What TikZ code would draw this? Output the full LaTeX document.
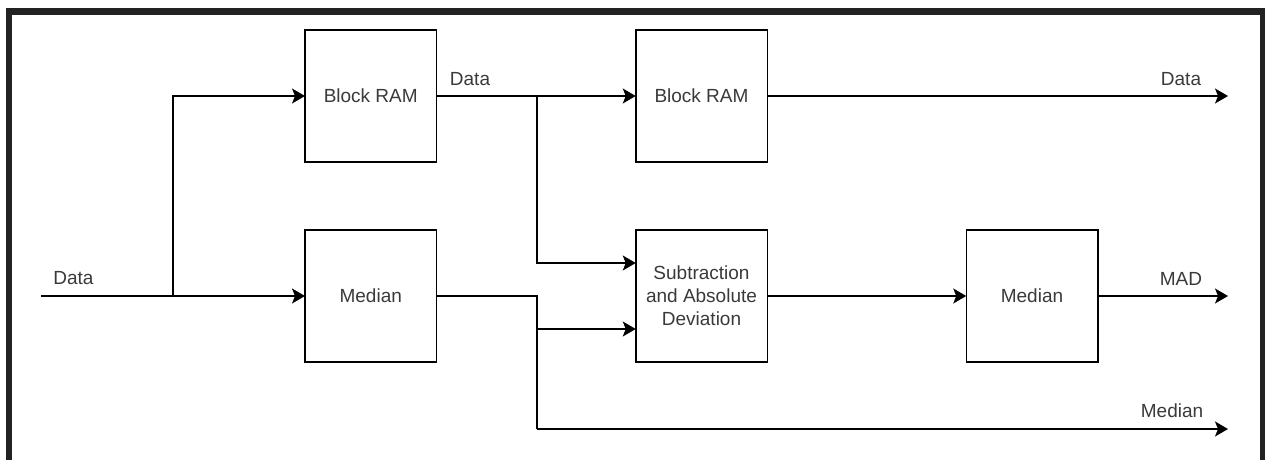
\documentclass[tikz,border=0pt]{standalone}
\usepackage{fontspec}
\setmainfont{Liberation Sans}
\usetikzlibrary{arrows.meta,calc}
\definecolor{framecol}{HTML}{222222}
\definecolor{txtcol}{HTML}{3A3A3A}
\tikzset{
  block/.style={draw=black, line width=1.5pt, minimum width=131.5pt, minimum height=132pt,
    inner sep=2pt, outer sep=0pt, align=center, text=txtcol,
    font=\fontsize{19}{23}\selectfont},
  wire/.style={draw=black, line width=1.5pt},
  flow/.style={wire, -{Stealth[length=13pt, width=15pt, inset=3pt]}},
  lbl/.style={text=txtcol, inner sep=0pt, font=\fontsize{19}{23}\selectfont}
}
\begin{document}
\begin{tikzpicture}[x=1pt,y=-1pt]
  \useasboundingbox (0,0) rectangle (1265,460);
  \fill[white] (0,0) rectangle (1265,460);
  % dark frame on top, left and right
  \fill[framecol] (6,8) rectangle (1265,15);
  \fill[framecol] (6,8) rectangle (12,460);
  \fill[framecol] (1260,8) rectangle (1265,460);

  % processing blocks
  \node[block] (bram1) at (370.75,96)  {Block RAM};
  \node[block] (bram2) at (701.5,96)   {Block RAM};
  \node[block] (med1)  at (370.75,296) {Median};
  \node[block] (sub)   at (701.5,296)  {Subtraction\\and Absolute\\Deviation};
  \node[block] (med2)  at (1032,296)   {Median};

  % free ends and junctions
  \coordinate (in)     at (41,296);
  \coordinate (j1)     at (173,296);
  \coordinate (j2)     at (537,96);
  \coordinate (j3)     at (537,296);
  \coordinate (j4)     at (537,329);
  \coordinate (j5)     at (537,429);
  \coordinate (outD)   at (1228,96);
  \coordinate (outMAD) at (1228,296);
  \coordinate (outM)   at (1228,429);
  \coordinate (subA) at ($(sub.north west)!0.25!(sub.south west)$);
  \coordinate (subB) at ($(sub.north west)!0.75!(sub.south west)$);

  % connectors
  \draw[flow] (in) -- (med1.west);
  \draw[flow] (j1) |- (bram1.west);
  \draw[flow] (bram1.east) -- (bram2.west);
  \draw[flow] (j2) |- (subA);
  \draw[wire] (med1.east) -- (j3) -- (j5);
  \draw[flow] (j4) -- (subB);
  \draw[flow] (j5) -- (outM);
  \draw[flow] (bram2.east) -- (outD);
  \draw[flow] (sub.east) -- (med2.west);
  \draw[flow] (med2.east) -- (outMAD);

  % signal labels
  \node[lbl] (lin)   at (73.5,278) {Data};
  \node[lbl] (ld1)   at (470,79)   {Data};
  \node[lbl] (ld2)   at (1181,79)  {Data};
  \node[lbl] (lmad)  at (1181,279) {MAD};
  \node[lbl] (lmed)  at (1172,411) {Median};
\end{tikzpicture}
\end{document}
